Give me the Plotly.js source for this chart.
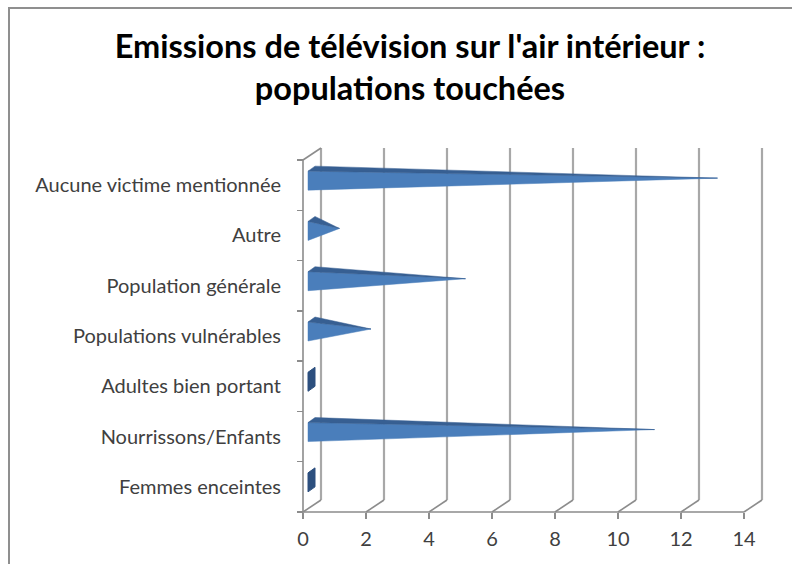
<!DOCTYPE html>
<html><head><meta charset="utf-8">
<script src="https://cdn.plot.ly/plotly-3.0.1.min.js"></script>
<style>
html,body{margin:0;padding:0;background:#fff;}
#wrap{position:relative;width:792px;height:564px;overflow:hidden;}
#chart{position:absolute;left:0;top:0;width:792px;height:564px;}
#frame{position:absolute;left:8px;top:7px;width:820px;height:620px;border-left:2px solid #8f8f8f;border-top:2px solid #8f8f8f;pointer-events:none;}
</style></head><body>
<div id="wrap"><div id="chart"></div><div id="frame"></div></div>
<script>
// ---- data (top to bottom as shown) ----
const categories = ["Aucune victime mentionnée", "Autre", "Population générale", "Populations vulnérables", "Adultes bien portant", "Nourrissons/Enfants", "Femmes enceintes"];
const values = [13, 1, 5, 2, 0, 11, 0];
const xTickValues = [0, 2, 4, 6, 8, 10, 12, 14];
const xTickLabels = ["0", "2", "4", "6", "8", "10", "12", "14"];
const titleText = "Emissions de télévision sur l'air intérieur :<br>populations touchées";

// ---- geometry (pixels) ----
const W = 792, H = 564;
const FRONT_LEFT = 303, FRONT_BOTTOM = 512, FRONT_TOP = 160;
const SX = 31.5;                       // px per x unit
const N = categories.length;
const SY = (FRONT_BOTTOM - FRONT_TOP) / N; // px per category
const DX = 18, DY = 12;                // 3D depth offset (px)
const PAD = 4;
const xMaxVal = 14;
const plotL = FRONT_LEFT - PAD;
const plotR = FRONT_LEFT + xMaxVal * SX + DX + PAD;
const plotB = FRONT_BOTTOM + PAD;
const plotT = FRONT_TOP - DY - PAD;
const xRange = [-PAD / SX, (plotR - FRONT_LEFT) / SX];
const yRange = [-0.5 - PAD / SY, -0.5 + (FRONT_BOTTOM - plotT) / SY];
const dxu = DX / SX, dyu = DY / SY;

const gridColor = "#a8a8a8";
const axisColor = "#8c8c8c";
const traces = [];

// back wall gridlines
{
  const gx = [], gy = [];
  xTickValues.forEach(v => { gx.push(v + dxu, v + dxu, null); gy.push(-0.5 + dyu, N - 0.5 + dyu, null); });
  traces.push({type: "scatter", mode: "lines", x: gx, y: gy, line: {color: gridColor, width: 2.2}, hoverinfo: "skip", showlegend: false});
}
// floor / side diagonals and front axis lines
{
  const fx = [], fy = [];
  xTickValues.forEach(v => { fx.push(v, v + dxu, null); fy.push(-0.5, -0.5 + dyu, null); });
  fx.push(0, dxu, null); fy.push(N - 0.5, N - 0.5 + dyu, null);
  fx.push(0, 0, xMaxVal); fy.push(N - 0.5, -0.5, -0.5);
  traces.push({type: "scatter", mode: "lines", x: fx, y: fy, line: {color: axisColor, width: 1.6}, hoverinfo: "skip", showlegend: false});
}

// pyramids
const BX = 5 / SX, BD = 7 / SX;        // base offset and depth width (x units)
const CYOFF = 7 / SY;                  // bar centre shift upward (depth)
const h1 = 7 / SY, h2 = 12 / SY;
values.forEach((v, i) => {
  const idx = N - 1 - i;
  const cy = idx + CYOFF;
  const x0 = BX;
  if (v === 0) {
    traces.push({type: "scatter", mode: "lines", fill: "toself",
      x: [x0, x0, x0 + BD, x0 + BD, x0], y: [cy - h2, cy + h1, cy + h2, cy - h1, cy - h2],
      line: {color: "#2c4f7e", width: 1}, fillcolor: "#2c4f7e", hoverinfo: "skip", showlegend: false});
  } else {
    const ax = x0 + v;
    // front face
    traces.push({type: "scatter", mode: "lines", fill: "toself",
      x: [x0, x0, ax, x0], y: [cy + h1, cy - h2, cy, cy + h1],
      line: {color: "#4a7ebb", width: 0.5}, fillcolor: "#4a7ebb", hoverinfo: "skip", showlegend: false});
    // top face
    traces.push({type: "scatter", mode: "lines", fill: "toself",
      x: [x0, x0 + BD, ax, x0], y: [cy + h1, cy + h2, cy, cy + h1],
      line: {color: "#375f92", width: 0.5}, fillcolor: "#375f92", hoverinfo: "skip", showlegend: false});
  }
});

const catIdx = categories.map((c, i) => N - 1 - i);
const boundaries = [];
for (let k = 0; k <= N; k++) boundaries.push(k - 0.5);

const layout = {
  width: W, height: H,
  paper_bgcolor: "#ffffff", plot_bgcolor: "rgba(0,0,0,0)",
  margin: {l: plotL, r: W - plotR, t: plotT, b: H - plotB, pad: 0, autoexpand: false},
  font: {family: "Lato, 'Open Sans', sans-serif", color: "#404040"},
  title: {text: titleText, font: {family: "Lato, sans-serif", size: 32.5, color: "#000", weight: "bold"},
    x: 410 / W, xanchor: "center", xref: "container", y: 1 - 58 / H, yanchor: "top", yref: "container"},
  showlegend: false,
  xaxis: {range: xRange, anchor: "free", position: PAD / (plotB - plotT), showgrid: false, zeroline: false, showline: false,
    tickmode: "array", tickvals: xTickValues, ticktext: xTickLabels,
    ticks: "outside", ticklen: 6, tickwidth: 1.5, tickcolor: axisColor,
    tickfont: {size: 20, color: "#404040"}, ticklabelstandoff: 3, fixedrange: true},
  yaxis: {range: yRange, anchor: "free", position: PAD / (plotR - plotL), showgrid: false, zeroline: false, showline: false,
    tickmode: "array", tickvals: catIdx, ticktext: categories, ticks: "",
    minor: {tickmode: "array", tickvals: boundaries, ticks: "outside", ticklen: 6, tickwidth: 1.5, tickcolor: axisColor, showgrid: false},
    tickfont: {size: 20, color: "#404040"}, ticklabelstandoff: 22, fixedrange: true}
};

Plotly.newPlot("chart", traces, layout, {staticPlot: true, displayModeBar: false});
</script>
</body></html>
